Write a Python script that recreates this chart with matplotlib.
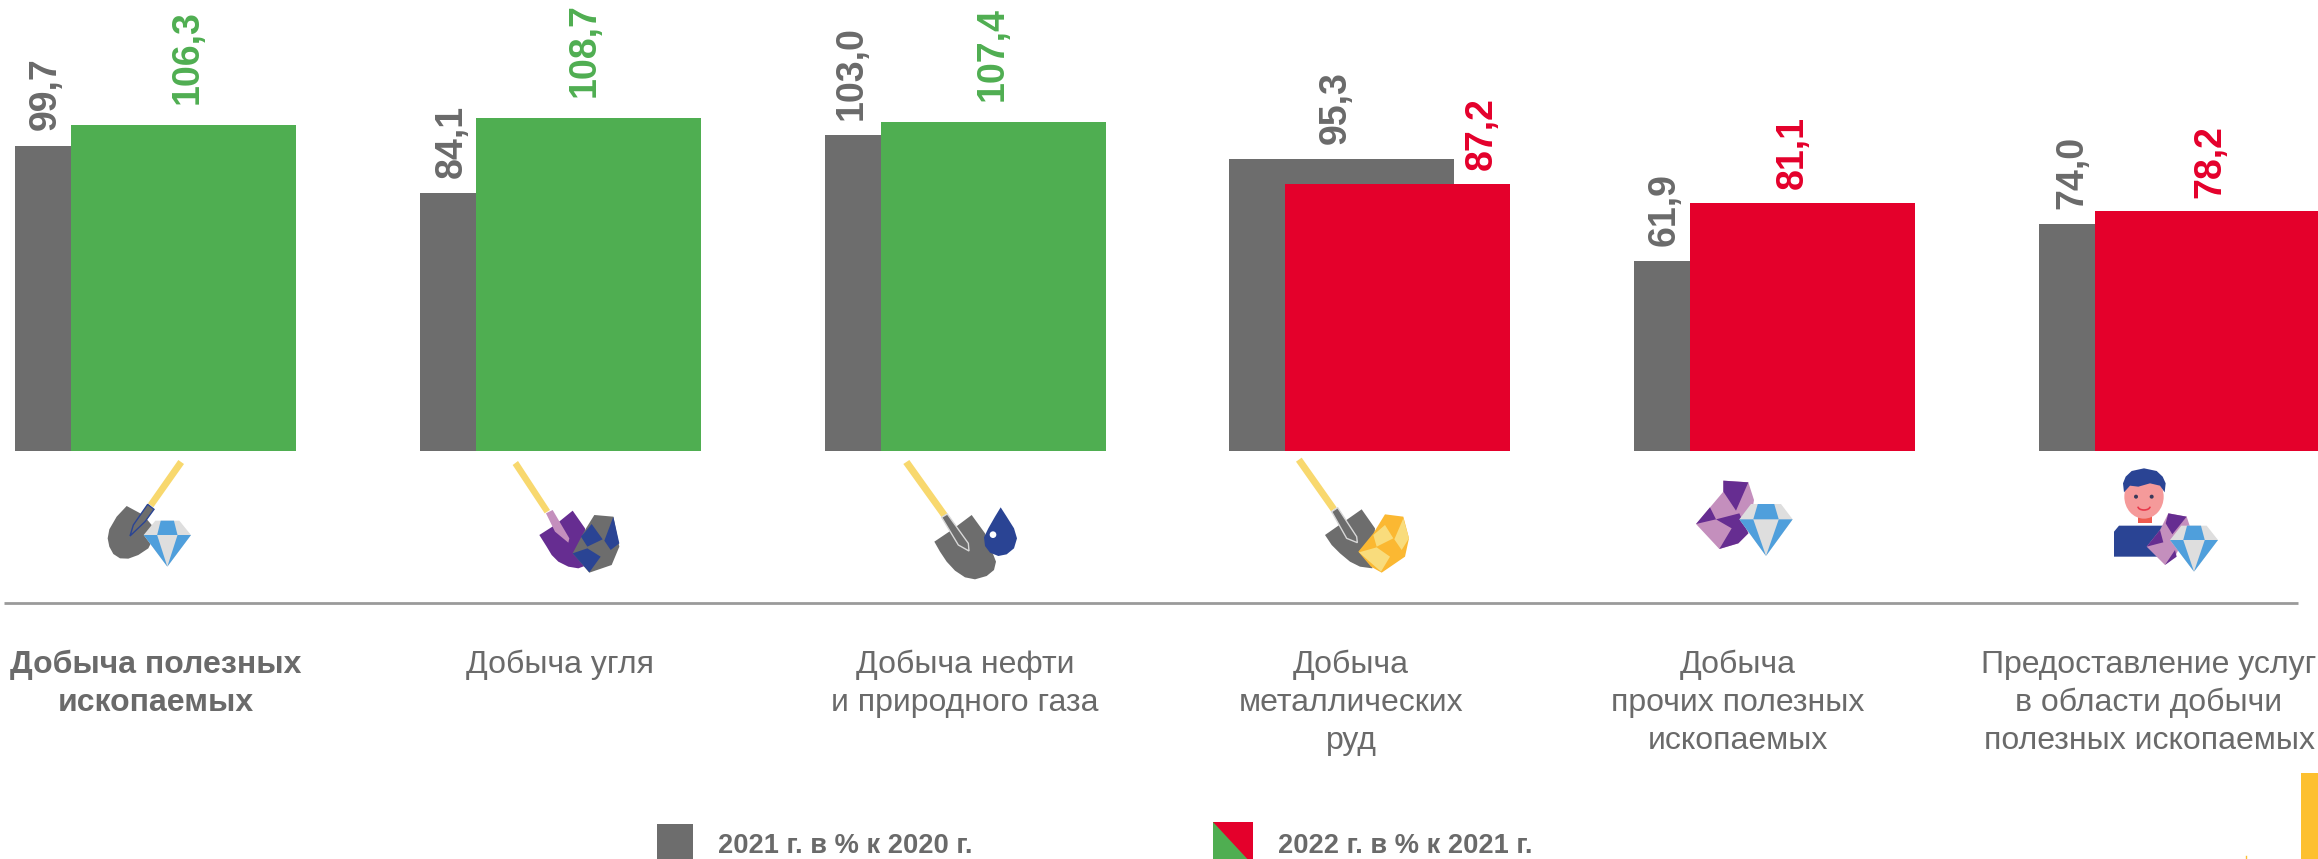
import numpy as np
import matplotlib
matplotlib.use('Agg')
import matplotlib.pyplot as plt
from matplotlib.patches import Polygon, Circle, Ellipse, Arc, Rectangle

plt.rcParams['font.family'] = ['Liberation Sans', 'DejaVu Sans']

categories = ['Добыча полезных\nископаемых', 'Добыча угля', 'Добыча нефти\nи природного газа',
              'Добыча\nметаллических\nруд', 'Добыча\nпрочих полезных\nископаемых',
              'Предоставление услуг\nв области добычи\nполезных ископаемых']
v2021 = [99.7, 84.1, 103.0, 95.3, 61.9, 74.0]
v2022 = [106.3, 108.7, 107.4, 87.2, 81.1, 78.2]
legend_labels = ['2021 г. в % к 2020 г.', '2022 г. в % к 2021 г.']

GRAY = '#6d6d6d'
GREEN = '#4fae51'
RED = '#e4002b'
TXT = '#6a6a6a'
YEL = '#f8d86e'
NAVY = '#2a4494'
PURPLE = '#662d91'
PINK = '#c48fbd'
BLUE = '#4f9fdc'
LGRAY = '#dedede'
GOLD = '#fbb832'
LGOLD = '#f9dc7c'

W, H = 2318, 859
fig = plt.figure(figsize=(W / 100, H / 100), dpi=100)

# axis for the bars: x in group numbers, y in percent
pitch = 404.8
x0 = 15.0
base = 451.0
ppu = 3.064
ax = fig.add_axes([0, 0, 1, 1])
ax.set_xlim(-x0 / pitch, (W - x0) / pitch)
ax.set_ylim(-(H - base) / ppu, base / ppu)
ax.axis('off')

bw = 225 / pitch
shift = 56 / pitch
for i in range(len(categories)):
    over = v2022[i] >= 100
    col = GREEN if over else RED
    ax.bar(i, v2021[i], width=bw, align='edge', color=GRAY, linewidth=0, zorder=2)
    ax.bar(i + shift, v2022[i], width=bw, align='edge', color=col, linewidth=0, zorder=3)

    # label places differ a bit from group to group, as on the slide
    gray_x = i + shift / 2 + [3, 4, -1, 0, 2, 5][i] / pitch
    col_x = i + shift + bw / 2 + [4, -4, 0, 0, -10, 3][i] / pitch
    if i == 3:
        gray_x = i + 106 / pitch
        col_x = i + 252 / pitch
    ax.annotate(f'{v2021[i]:.1f}'.replace('.', ','), (gray_x, v2021[i]), xytext=(0, 11),
                textcoords='offset points', rotation=90, ha='center', va='bottom',
                fontsize=27, fontweight='bold', color=TXT, zorder=4)
    ax.annotate(f'{v2022[i]:.1f}'.replace('.', ','), (col_x, v2022[i]), xytext=(0, 15 if over else 10),
                textcoords='offset points', rotation=90, ha='center', va='bottom',
                fontsize=27, fontweight='bold', color=col, zorder=4)

# overlay in pixels for the pictures, rule and legend
px = fig.add_axes([0, 0, 1, 1])
px.set_xlim(0, W)
px.set_ylim(H, 0)
px.axis('off')
px.patch.set_alpha(0)


def poly(ox, oy, pts, color, ec='none', lw=0):
    p = np.array(pts, dtype=float) / 3 + [ox, oy]
    px.add_patch(Polygon(p, closed=True, facecolor=color, edgecolor=ec, linewidth=lw))


def diamond(ox, oy, cx, top, mid, bot, hw, th):
    poly(ox, oy, [(cx - th, top), (cx + th, top), (cx + hw, mid), (cx, bot), (cx - hw, mid)], LGRAY)
    poly(ox, oy, [(cx - th * 0.55, top), (cx + th * 0.55, top), (cx + th * 0.85, mid), (cx - th * 0.85, mid)], BLUE)
    poly(ox, oy, [(cx - hw, mid), (cx - th * 0.85, mid), (cx, bot)], BLUE)
    poly(ox, oy, [(cx + hw, mid), (cx + th * 0.85, mid), (cx, bot)], BLUE)


# icon 1
o = (80, 450)
poly(*o, [(140, 168), (190, 195), (215, 225), (220, 265), (205, 295), (175, 315), (145, 326), (120, 325),
          (100, 312), (88, 290), (83, 265), (88, 238), (110, 200)], GRAY)
poly(*o, [(295, 30), (312, 42), (220, 172), (204, 160)], YEL)
poly(*o, [(203, 163), (222, 178), (195, 215), (150, 258), (160, 225)], GRAY, NAVY, 1)
diamond(*o, 262, 212, 255, 350, 71, 36)

# icon 2
o = (500, 450)
poly(*o, [(118, 255), (165, 225), (218, 182), (255, 235), (262, 345), (235, 355), (205, 350), (175, 335),
          (155, 315), (140, 290)], PURPLE)
poly(*o, [(38, 45), (54, 33), (150, 180), (134, 190)], YEL)
poly(*o, [(138, 190), (158, 180), (208, 265), (205, 278), (165, 245)], PINK)
poly(*o, [(283, 195), (340, 200), (358, 290), (335, 345), (268, 368), (218, 310), (255, 240)], GRAY)
poly(*o, [(275, 222), (308, 268), (262, 290), (243, 260)], NAVY)
poly(*o, [(340, 200), (358, 280), (332, 300), (313, 272)], NAVY)
poly(*o, [(218, 310), (262, 295), (302, 320), (268, 367)], NAVY)

# icon 3
o = (890, 450)
poly(*o, [(133, 275), (185, 240), (245, 195), (285, 250), (318, 335), (312, 360), (290, 378), (255, 388),
          (225, 382), (195, 362), (170, 335), (150, 305)], GRAY)
poly(*o, [(40, 42), (58, 30), (172, 190), (155, 202)], YEL)
poly(*o, [(155, 202), (172, 192), (235, 280), (237, 303), (205, 285)], GRAY, '#d8d8d8', 1)
poly(*o, [(332, 172), (350, 200), (372, 235), (381, 265), (372, 295), (350, 313), (325, 318), (300, 308),
          (285, 288), (282, 262), (295, 235), (315, 200)], NAVY)
px.add_patch(Circle((o[0] + 309 / 3, o[1] + 254 / 3), 10 / 3, color='white', lw=0))

# icon 4
o = (1285, 450)
poly(*o, [(120, 255), (230, 178), (270, 235), (262, 355), (225, 350), (195, 335), (165, 310), (140, 285)], GRAY)
poly(*o, [(33, 35), (50, 23), (155, 172), (138, 184)], YEL)
poly(*o, [(140, 185), (158, 173), (215, 260), (217, 278), (185, 265)], GRAY, '#d8d8d8', 1)
poly(*o, [(300, 193), (355, 200), (372, 265), (360, 320), (290, 368), (258, 350), (220, 305), (265, 250)], GOLD)
poly(*o, [(265, 255), (300, 225), (325, 265), (275, 290)], LGOLD)
poly(*o, [(355, 205), (372, 265), (350, 300), (328, 268)], LGOLD)
poly(*o, [(222, 307), (275, 292), (315, 320), (288, 365)], LGOLD)

# icon 5
o = (1680, 450)
poly(*o, [(130, 92), (205, 97), (222, 150), (205, 250), (175, 280), (118, 297), (48, 222), (130, 125)], PINK)
poly(*o, [(130, 92), (205, 97), (168, 182), (130, 125)], PURPLE)
poly(*o, [(48, 222), (90, 172), (108, 208)], PURPLE)
poly(*o, [(108, 208), (178, 190), (205, 250), (175, 280), (118, 297), (155, 235)], PURPLE)
diamond(*o, 258, 162, 208, 318, 80, 45)

# icon 6
o = (2095, 455)
poly(*o, [(57, 305), (57, 230), (72, 212), (225, 212), (235, 305)], NAVY)
px.add_patch(Rectangle((o[0] + 128 / 3, o[1] + 180 / 3), 44 / 3, 25 / 3, color='#ef5b50', lw=0))
px.add_patch(Ellipse((o[0] + 147 / 3, o[1] + 125 / 3), 118 / 3, 132 / 3, color='#f59a9a', lw=0))
poly(*o, [(87, 112), (84, 85), (92, 65), (110, 48), (147, 40), (185, 48), (203, 65), (212, 85), (209, 112),
          (195, 92), (165, 85), (130, 95), (105, 92)], NAVY)
px.add_patch(Circle((o[0] + 123 / 3, o[1] + 125 / 3), 6 / 3, color='#3a3a5a', lw=0))
px.add_patch(Circle((o[0] + 170 / 3, o[1] + 125 / 3), 6 / 3, color='#3a3a5a', lw=0))
px.add_patch(Arc((o[0] + 147 / 3, o[1] + 155 / 3), 36 / 3, 20 / 3, theta1=0, theta2=180, color='#e8384a', lw=1.2))
poly(*o, [(220, 175), (275, 185), (285, 215), (240, 305), (210, 330), (155, 275), (195, 225)], PINK)
poly(*o, [(220, 175), (275, 185), (232, 238), (212, 205)], PURPLE)
poly(*o, [(195, 225), (205, 262), (155, 275)], PURPLE)
poly(*o, [(240, 285), (245, 305), (210, 330)], PURPLE)
diamond(*o, 297, 212, 255, 350, 72, 38)

# rule under the icons
px.plot([4, 2298], [603, 603], color='#9a9a9a', lw=2, solid_capstyle='butt')

# category names
name_x = [156, 560, 965, 1351, 1738, 2149]
for i, name in enumerate(categories):
    px.text(name_x[i], 650, name, ha='center', va='top', fontsize=23, color=TXT,
            fontweight='bold' if i == 0 else 'normal', linespacing=1.33)

# legend
px.add_patch(Rectangle((657, 824), 36, 40, color=GRAY, lw=0))
px.text(718, 846, legend_labels[0], ha='left', va='center', fontsize=19.6, fontweight='bold', color=TXT)
px.add_patch(Rectangle((1213, 822), 40, 42, color=RED, lw=0))
px.add_patch(Polygon([(1213, 822), (1213, 864), (1252, 864)], closed=True, color=GREEN, lw=0))
px.text(1278, 846, legend_labels[1], ha='left', va='center', fontsize=19.6, fontweight='bold', color=TXT)

# corner decoration of the slide
px.add_patch(Rectangle((2301, 773), 20, 90, color='#fdc02f', lw=0))
px.plot([2246, 2246], [856, 860], color='#fdc02f', lw=1)

fig.savefig('out.png', dpi=100)
